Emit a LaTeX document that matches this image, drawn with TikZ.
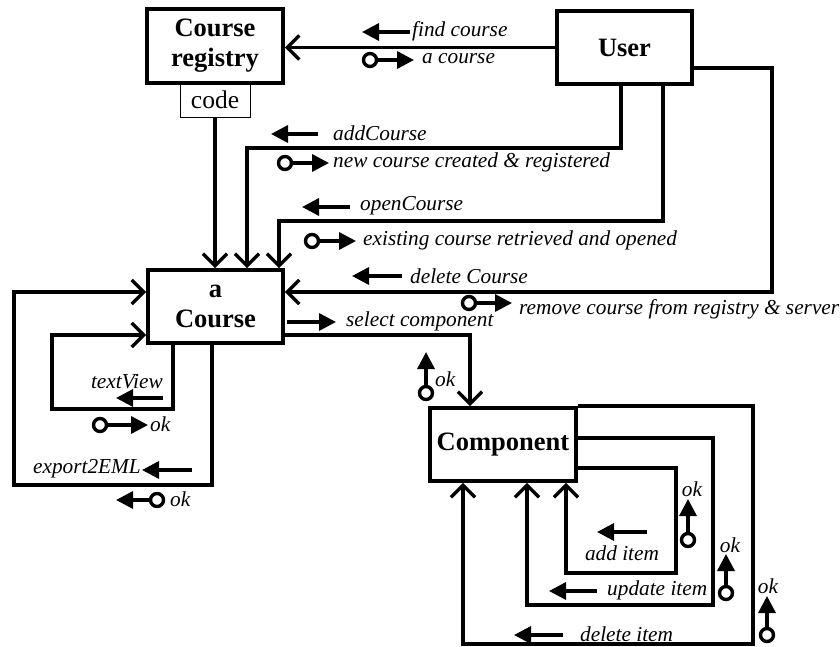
\documentclass[tikz,border=0pt]{standalone}
\usepackage{fontspec}
\setmainfont{Liberation Serif}
\usetikzlibrary{arrows.meta}

\tikzset{
  box/.style={draw, line width=3.8pt, inner sep=0pt, align=center,
    font=\fontsize{26.5}{30}\selectfont\bfseries},
  conn/.style={line width=3.4pt, line join=miter,
    -{Straight Barb[length=12pt,width=24pt,line width=3.4pt]}},
  loop/.style={line width=3.4pt, line join=miter},
  msg/.style={line width=3.4pt, -{Triangle[length=17pt,width=17pt]}},
  tok/.style={line width=3.4pt, fill=white},
  lbl/.style={inner sep=0pt, font=\fontsize{21.3}{24}\selectfont\itshape},
}

\begin{document}
\begin{tikzpicture}[x=1pt, y=-1pt]
\useasboundingbox (0,0) rectangle (840,647);

% objects
\node[box, minimum width=136pt, minimum height=74pt] (reg) at (215,46) {Course\\registry};
\node[draw, line width=0.9pt, inner sep=0pt, minimum width=70pt, minimum height=34pt,
      font=\fontsize{25.5}{28}\selectfont] (code) at (215,100) {code};
\node[box, minimum width=135pt, minimum height=73pt] (user) at (624.5,47.5) {User};
\node[box, minimum width=135pt, minimum height=73pt] (course) at (215.5,306.5) {a\\Course};
\node[box, minimum width=146pt, minimum height=73pt] (comp) at (503,444.5) {Component};

% links between objects
\draw[conn] (user.west) -- (reg.east |- user.west);
\draw[conn] (code.south) -- (course.north -| code.south);
\draw[conn] (user.south -| 621,0) |- (247,148) -- (course.north -| 247,0);
\draw[conn] (user.south -| 663,0) |- (279,221) -- (course.north -| 279,0);
\draw[conn] (user.east |- 0,68) -| (772,292) -- (course.east |- 0,292);
\draw[conn] (course.east |- 0,335) -| (comp.north -| 470,0);

% self links of the course
\draw[loop] (course.south -| 212,0) |- (14,485) |- (38,292);
\draw[conn] (38,292) -- (course.west |- 0,292);
\draw[loop] (course.south -| 173,0) |- (52,409) |- (70,335);
\draw[conn] (70,335) -- (course.west |- 0,335);

% self links of the component
\draw[loop] (comp.north east) -| (753,644) -| (463,560);
\draw[conn] (463,560) -- (comp.south -| 463,0);
\draw[loop] (comp.east |- 0,438) -| (713,605) -| (527,540);
\draw[conn] (527,540) -- (comp.south -| 527,0);
\draw[loop] (comp.east |- 0,468) -| (676,573) -| (566,530);
\draw[conn] (566,530) -- (comp.south -| 566,0);

% messages: user and registry
\node[lbl, anchor=west] (lfind) at (412,31) {find course};
\draw[msg] (410,32) -- (362,32);
\node[lbl, anchor=west] (lacourse) at (422,59) {a course};
\draw[msg] (376,60) -- (414,60);
\draw[tok] (370,60) circle (6.5pt);

% messages: user and course
\node[lbl, anchor=west] (ladd) at (333,133) {addCourse};
\draw[msg] (318,134) -- (271,134);
\node[lbl, anchor=west] (lnew) at (333,162) {new course created \& registered};
\draw[msg] (291,163) -- (329,163);
\draw[tok] (285,163) circle (6.5pt);

\node[lbl, anchor=west] (lopen) at (360,206) {openCourse};
\draw[msg] (350,207) -- (302,207);
\node[lbl, anchor=west] (lexist) at (363,240) {existing course retrieved and opened};
\draw[msg] (318,241) -- (356,241);
\draw[tok] (312,241) circle (6.5pt);

\node[lbl, anchor=west] (ldel) at (410,276) {delete Course};
\draw[msg] (402,276) -- (352,276);
\node[lbl, anchor=west] (lrem) at (519,309) {remove course from registry \& server};
\draw[msg] (475,303) -- (512,303);
\draw[tok] (469,303) circle (6.5pt);

% messages: course and component
\node[lbl, anchor=west] (lsel) at (346,321) {select component};
\draw[msg] (287,322) -- (336,322);
\node[lbl, anchor=west] (lok0) at (435,379) {ok};
\draw[msg] (426,387) -- (426,352);
\draw[tok] (426,393) circle (6.5pt);

% messages: course to itself
\node[lbl, anchor=east] (ltext) at (163,382) {textView};
\draw[msg] (163,398) -- (116,398);
\node[lbl, anchor=west] (lok1) at (150,424) {ok};
\draw[msg] (106,425) -- (148,425);
\draw[tok] (100,425) circle (6.5pt);

\node[lbl, anchor=east] (lexp) at (141,469) {export2EML};
\draw[msg] (192,470) -- (142,470);
\node[lbl, anchor=west] (lok2) at (170,499) {ok};
\draw[msg] (151,500) -- (116,500);
\draw[tok] (157,500) circle (6.5pt);

% messages: component to itself
\node[lbl] (ladditem) at (622,553) {add item};
\draw[msg] (647,532) -- (597,532);
\node[lbl] (lok3) at (692,489) {ok};
\draw[msg] (688,534) -- (688,499);
\draw[tok] (688,540) circle (6.5pt);

\node[lbl, anchor=west] (lupd) at (607,590) {update item};
\draw[msg] (597,591) -- (549,591);
\node[lbl] (lok4) at (730,545) {ok};
\draw[msg] (726,587) -- (726,554);
\draw[tok] (726,593) circle (6.5pt);

\node[lbl, anchor=west] (ldelitem) at (580,634) {delete item};
\draw[msg] (563,635) -- (514,635);
\node[lbl] (lok5) at (768,586) {ok};
\draw[msg] (767,629) -- (767,596);
\draw[tok] (767,635) circle (6.5pt);
\end{tikzpicture}
\end{document}
